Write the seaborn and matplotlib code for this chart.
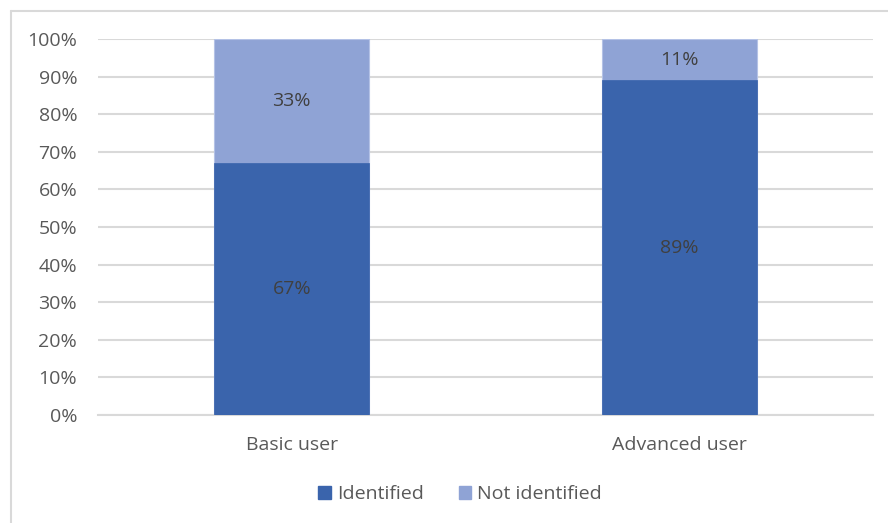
import matplotlib
matplotlib.use("Agg")
import matplotlib.pyplot as plt
import matplotlib.patches as mpatches
import pandas as pd
import seaborn as sns

categories = ["Basic user", "Advanced user"]
identified = [67, 89]
not_identified = [33, 11]
y_ticks = [0, 10, 20, 30, 40, 50, 60, 70, 80, 90, 100]

dark = "#3A64AC"
light = "#8FA3D5"
text_grey = "#595959"
fs = 14

sns.set_theme(style="white")
plt.rcParams["font.family"] = ["Open Sans", "DejaVu Sans"]

df = pd.DataFrame({
    "category": categories,
    "identified": identified,
    "not_identified": not_identified,
})
df["total"] = df["identified"] + df["not_identified"]

fig = plt.figure(figsize=(8.88, 5.23), dpi=100)
ax = fig.add_axes([98 / 888, 1 - 415 / 523, (873 - 98) / 888, (415 - 39) / 523])

sns.barplot(data=df, x="category", y="total", color=light, width=0.4,
            saturation=1, ax=ax, zorder=2, edgecolor="#B4C2E6", linewidth=0.8)
sns.barplot(data=df, x="category", y="identified", color=dark, width=0.4,
            saturation=1, ax=ax, zorder=3, edgecolor=dark, linewidth=0.5)

for i, (a, b) in enumerate(zip(identified, not_identified)):
    ax.text(i, a / 2, f"{a}%", ha="center", va="center", fontsize=fs,
            color="#404040", zorder=4)
    ax.text(i, a + b / 2, f"{b}%", ha="center", va="center", fontsize=fs,
            color="#404040", zorder=4)

ax.set_ylim(0, 100)
ax.set_xlim(-0.5, 1.5)
ax.set_yticks(y_ticks)
ax.set_yticklabels([f"{t}%" for t in y_ticks])
ax.yaxis.grid(True, color="#D9D9D9", linewidth=1.5, zorder=0)
ax.set_axisbelow(True)
ax.set_xlabel("")
ax.set_ylabel("")
for s in ["top", "right", "left"]:
    ax.spines[s].set_visible(False)
ax.spines["bottom"].set_color("#D9D9D9")
ax.spines["bottom"].set_linewidth(1.5)
ax.tick_params(axis="y", length=0, pad=15, labelsize=fs, labelcolor=text_grey)
ax.tick_params(axis="x", length=0, pad=15, labelsize=fs, labelcolor=text_grey)

handles = [mpatches.Patch(color=dark, label="Identified"),
           mpatches.Patch(color=light, label="Not identified")]
fig.legend(handles=handles, loc="center", bbox_to_anchor=(460 / 888, 1 - 494 / 523),
           ncol=2, frameon=False, fontsize=fs, handlelength=0.65, handleheight=0.65,
           handletextpad=0.3, columnspacing=1.8, labelcolor=text_grey)

# light frame on the left and top edges of the chart area
fig.add_artist(plt.Line2D([10.5 / 888, 10.5 / 888], [0, 1 - 11 / 523],
                          transform=fig.transFigure, color="#D9D9D9", linewidth=1.5))
fig.add_artist(plt.Line2D([10.5 / 888, 1], [1 - 11 / 523, 1 - 11 / 523],
                          transform=fig.transFigure, color="#D9D9D9", linewidth=1.5))

fig.savefig("out.png", dpi=100)
